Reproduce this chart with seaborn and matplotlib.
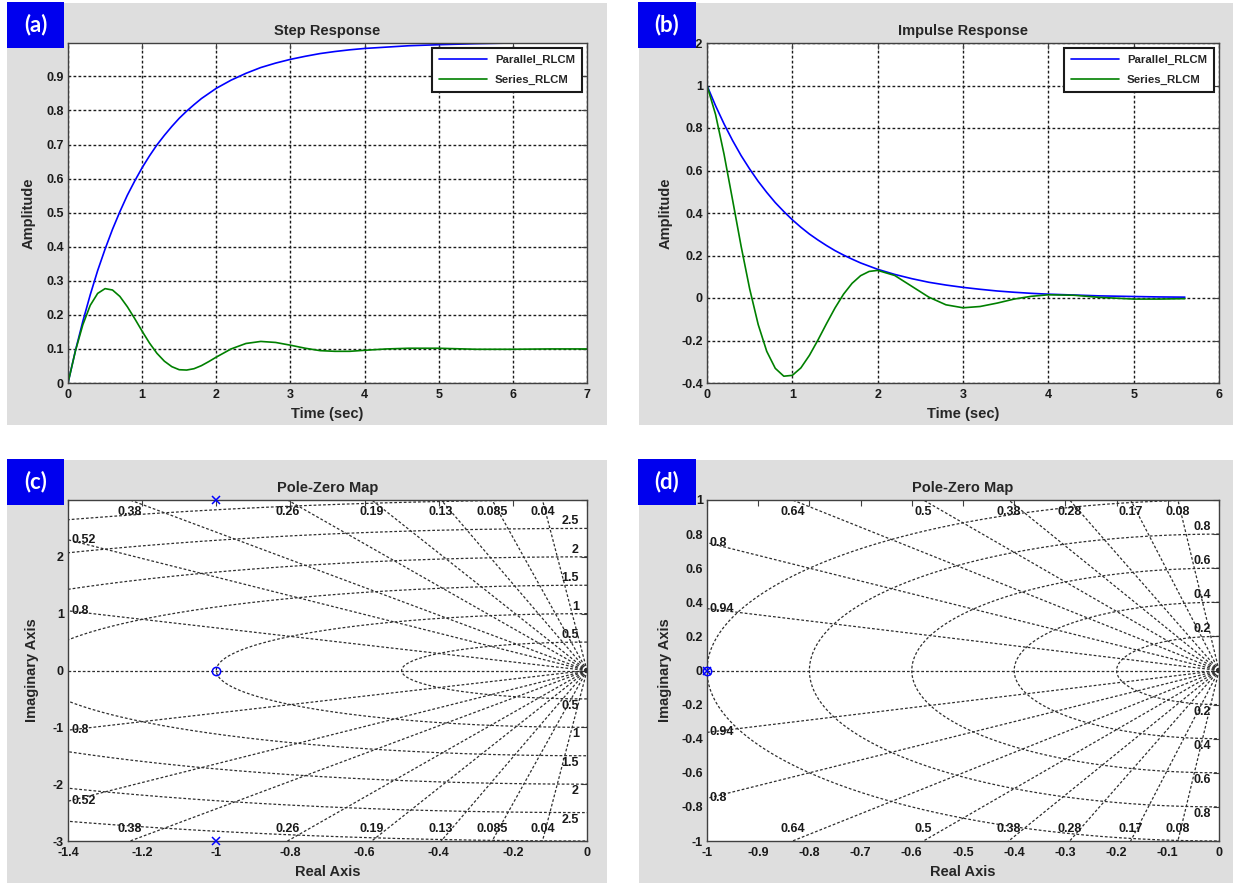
import matplotlib
matplotlib.use("Agg")
import matplotlib.pyplot as plt
from matplotlib.patches import Rectangle
import numpy as np
import pandas as pd
import seaborn as sns


W, H = 1233, 883

# step response
t_step = [0, .1, .2, .3, .4, .5, .6, .7, .8, .9, 1.0, 1.1, 1.2, 1.3, 1.4,
          1.5, 1.6, 1.7, 1.8, 1.9, 2.0, 2.2, 2.4, 2.6, 2.8, 3.0, 3.2, 3.4,
          3.6, 3.8, 4.0, 4.3, 4.6, 5.0, 5.5, 6.0, 6.5, 7.0]
step_parallel = [0, .095, .181, .259, .330, .393, .451, .503, .551, .593,
                 .632, .667, .699, .727, .753, .777, .798, .817, .835, .850,
                 .865, .889, .909, .926, .939, .950, .959, .967, .973, .978,
                 .982, .986, .990, .993, .996, .998, .998, .999]
step_series = [0, .094, .171, .228, .263, .277, .273, .254, .224, .189,
               .152, .117, .087, .064, .048, .039, .038, .042, .051, .063,
               .076, .100, .116, .122, .119, .111, .102, .095, .093, .093,
               .096, .100, .102, .102, .099, .099, .100, .100]

# impulse response
t_imp = [0, .1, .2, .3, .4, .5, .6, .7, .8, .9, 1.0, 1.1, 1.2, 1.3, 1.4,
         1.5, 1.6, 1.7, 1.8, 1.9, 2.0, 2.2, 2.4, 2.6, 2.8, 3.0, 3.2, 3.4,
         3.6, 3.8, 4.0, 4.3, 4.6, 5.0, 5.3, 5.6]
imp_parallel = [1, .905, .819, .741, .670, .607, .549, .497, .449, .407,
                .368, .333, .301, .273, .247, .223, .202, .183, .165, .150,
                .135, .111, .091, .074, .061, .050, .041, .033, .027, .022,
                .018, .014, .010, .007, .005, .004]
imp_series = [1, .864, .676, .461, .243, .043, -.125, -.251, -.331, -.368,
              -.364, -.329, -.270, -.198, -.121, -.047, .018, .069, .105,
              .125, .130, .106, .055, .004, -.032, -.046, -.040, -.024,
              -.005, .008, .015, .013, .003, -.005, -.005, -.003]

# pole-zero maps
poles_c = [(-1, 3), (-1, -3)]
zeros_c = [(-1, 0)]
zeta_c = [0.04, 0.085, 0.13, 0.19, 0.26, 0.38, 0.52, 0.8]
wn_c = [0.5, 1, 1.5, 2, 2.5, 3]

poles_d = [(-1, 0)]
zeros_d = [(-1, 0)]
zeta_d = [0.08, 0.17, 0.28, 0.38, 0.5, 0.64, 0.8, 0.94]
wn_d = [0.2, 0.4, 0.6, 0.8, 1.0]

GREY = "#dedede"
BOX_BLUE = "#0000ee"
BLUE = "#0000ff"
GREEN = "#008000"
TXT = "#1a1a1a"

sns.set_theme(style="white")
plt.rcParams["font.family"] = ["Liberation Sans Narrow", "Liberation Sans", "DejaVu Sans"]
plt.rcParams["font.weight"] = "bold"
plt.rcParams["axes.titleweight"] = "bold"
plt.rcParams["axes.labelweight"] = "bold"

fig = plt.figure(figsize=(W / 100, H / 100), dpi=100)
fig.patch.set_facecolor("white")


def fig_rect(x0, y0, x1, y1):
    return [x0 / W, 1 - y1 / H, (x1 - x0) / W, (y1 - y0) / H]


def add_panel(x0, y0, x1, y1):
    l, b, w, h = fig_rect(x0, y0, x1, y1)
    fig.add_artist(Rectangle((l, b), w, h, transform=fig.transFigure,
                             facecolor=GREY, edgecolor="none", zorder=-5))


def add_box(x0, y0, x1, y1, text):
    l, b, w, h = fig_rect(x0, y0, x1, y1)
    fig.add_artist(Rectangle((l, b), w, h, transform=fig.transFigure,
                             facecolor=BOX_BLUE, edgecolor="none", zorder=10))
    fig.text(l + w / 2, b + h / 2, text, color="white", fontsize=16,
             fontweight="bold", family=["Lato", "DejaVu Sans"],
             ha="center", va="center", zorder=11)


def style_axes(ax, xticks, yticks, title, xlabel, ylabel, ylab_x):
    ax.set_facecolor("white")
    for sp in ax.spines.values():
        sp.set_color("#404040")
        sp.set_linewidth(1.0)
        sp.set_visible(True)
    ax.set_xticks(xticks)
    ax.set_yticks(yticks)
    ax.set_xticklabels([f"{np.round(v, 3):g}" for v in xticks])
    ax.set_yticklabels([f"{np.round(v, 3):g}" for v in yticks])
    ax.tick_params(direction="in", top=True, right=True, length=4,
                   width=0.8, color="#404040", labelsize=9,
                   labelcolor=TXT, pad=3)
    ax.tick_params(axis="x", pad=4.5)
    ax.set_title(title, fontsize=10.5, fontweight="bold", pad=6)
    ax.set_xlabel(xlabel, fontsize=10.5, fontweight="bold")
    ax.set_ylabel(ylabel, fontsize=10.5, fontweight="bold")
    ax.xaxis.set_label_coords(0.5, -0.07)
    ax.yaxis.set_label_coords(ylab_x, 0.5)


def response_plot(ax, t, par, ser):
    sns.lineplot(x=t, y=par, color=BLUE, linewidth=1.2, label="Parallel_RLCM", ax=ax)
    sns.lineplot(x=t, y=ser, color=GREEN, linewidth=1.2, label="Series_RLCM", ax=ax)
    ax.grid(True, color="k", linestyle=(0, (2, 1.6)), linewidth=1.0)
    ax.set_axisbelow(True)
    leg = ax.legend(loc="upper right", frameon=True, fancybox=False,
                    edgecolor="k", framealpha=1, handlelength=4.2,
                    borderaxespad=0.45, borderpad=0.6, labelspacing=0.9,
                    handletextpad=0.7,
                    prop={"size": 8.2, "weight": "bold"})
    leg.get_frame().set_linewidth(1.5)


GRID_KW = dict(color="#2e2e2e", linewidth=0.9, linestyle=(0, (2.2, 1.6)))


def pz_plot(ax, zetas, wns, poles, zeros, xmin, ymax):
    far = 20 * max(abs(xmin), ymax)
    for z in zetas:
        s = np.sqrt(1 - z ** 2)
        for sign in (1, -1):
            ax.plot([0, -z * far], [0, sign * s * far], **GRID_KW)
    ax.plot([xmin, 0], [0, 0], **GRID_KW)
    theta = np.linspace(np.pi / 2, 3 * np.pi / 2, 600)
    for w in wns:
        ax.plot(w * np.cos(theta), w * np.sin(theta), **GRID_KW)

    # damping labels
    for z in zetas:
        s = np.sqrt(1 - z ** 2)
        xt = -ymax * z / s
        lab = f"{z:g}"
        for sign in (1, -1):
            if xt >= xmin:
                ax.annotate(lab, (xt, sign * ymax), xytext=(0, -sign * 12),
                            textcoords="offset pixels", ha="center", va="center",
                            fontsize=9, color=TXT, annotation_clip=False)
            else:
                yl = -xmin * s / z
                ax.annotate(lab, (xmin, sign * yl), xytext=(3, 0),
                            textcoords="offset pixels", ha="left", va="center",
                            fontsize=9, color=TXT, annotation_clip=False)
    # natural frequency labels
    for w in wns:
        if w >= ymax:
            continue
        for sign in (1, -1):
            ax.annotate(f"{w:g}", (0, sign * w), xytext=(-8, sign * 1),
                        textcoords="offset pixels", ha="right",
                        va="bottom" if sign > 0 else "top",
                        fontsize=9, color=TXT, annotation_clip=False)

    px, py = zip(*poles)
    ax.plot(px, py, linestyle="none", marker="x", color=BLUE, markersize=6,
            markeredgewidth=1.1, clip_on=False, zorder=5)
    zx, zy = zip(*zeros)
    ax.plot(zx, zy, linestyle="none", marker="o", color=BLUE, markersize=6,
            markerfacecolor="none", markeredgewidth=1.1, clip_on=False, zorder=5)
    ax.set_xlim(xmin, 0)
    ax.set_ylim(-ymax, ymax)


# grey panel backgrounds
add_panel(7, 3, 607, 425)
add_panel(639, 3, 1233, 425)
add_panel(7, 460, 607, 883)
add_panel(639, 460, 1233, 883)

# (a) step response
ax_a = fig.add_axes(fig_rect(68, 43, 587, 383))
response_plot(ax_a, t_step, step_parallel, step_series)
ax_a.set_xlim(0, 7)
ax_a.set_ylim(0, 0.998)
style_axes(ax_a, list(range(8)), [i / 10 for i in range(10)],
           "Step Response", "Time (sec)", "Amplitude", -0.062)

# (b) impulse response
ax_b = fig.add_axes(fig_rect(707, 43, 1219, 383))
response_plot(ax_b, t_imp, imp_parallel, imp_series)
ax_b.set_xlim(0, 6)
ax_b.set_ylim(-0.4, 1.2)
style_axes(ax_b, list(range(7)), [-0.4, -0.2, 0, 0.2, 0.4, 0.6, 0.8, 1, 1.2],
           "Impulse Response", "Time (sec)", "Amplitude", -0.068)

# (c) pole-zero map, series
ax_c = fig.add_axes(fig_rect(68, 500, 587, 841))
pz_plot(ax_c, zeta_c, wn_c, poles_c, zeros_c, -1.4, 3)
style_axes(ax_c, [-1.4, -1.2, -1, -0.8, -0.6, -0.4, -0.2, 0],
           [-3, -2, -1, 0, 1, 2, 3],
           "Pole-Zero Map", "Real Axis", "Imaginary Axis", -0.055)

# (d) pole-zero map, parallel
ax_d = fig.add_axes(fig_rect(707, 500, 1219, 841))
pz_plot(ax_d, zeta_d, wn_d, poles_d, zeros_d, -1, 1)
style_axes(ax_d, [-1, -0.9, -0.8, -0.7, -0.6, -0.5, -0.4, -0.3, -0.2, -0.1, 0],
           [-1, -0.8, -0.6, -0.4, -0.2, 0, 0.2, 0.4, 0.6, 0.8, 1],
           "Pole-Zero Map", "Real Axis", "Imaginary Axis", -0.068)

# panel tags
add_box(7, 2, 64, 48, "(a)")
add_box(638, 2, 696, 48, "(b)")
add_box(7, 459, 64, 505, "(c)")
add_box(638, 459, 696, 505, "(d)")

fig.savefig("out.png", dpi=100)
